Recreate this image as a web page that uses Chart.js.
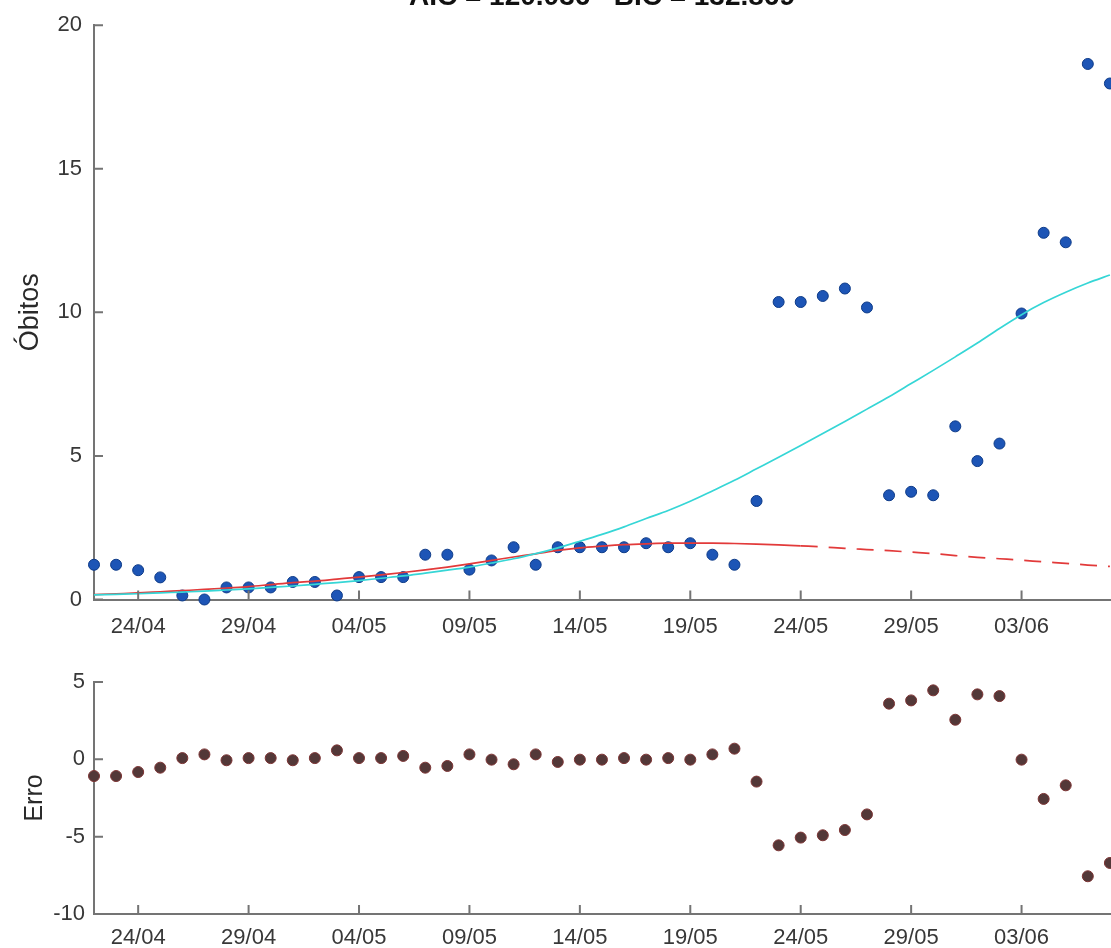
<!DOCTYPE html>
<html>
<head>
<meta charset="utf-8">
<script src="https://cdn.jsdelivr.net/npm/chart.js@4.4.1/dist/chart.umd.min.js"></script>
<style>
html,body{margin:0;padding:0;background:#fff;overflow:hidden;}
#wrap{position:relative;width:1111px;height:948px;overflow:hidden;background:#fff;}
#title{position:absolute;left:0;width:1204px;text-align:center;top:-18px;font:bold 28px "Liberation Sans",Arial,sans-serif;color:#111;white-space:pre;line-height:28px;z-index:5;}
#topBox{position:absolute;left:0;top:0;width:1111px;height:645px;}
#botBox{position:absolute;left:0;top:640px;width:1111px;height:308px;}
</style>
</head>
<body>
<div id="wrap">
  <div id="topBox"><canvas id="topChart"></canvas></div>
  <div id="botBox"><canvas id="botChart"></canvas></div>
  <div id="title">AIC = 120.036   BIC = 132.869</div>
</div>
<script>
// ---- data ----
const dates = ['22/04','23/04','24/04','25/04','26/04','27/04','28/04','29/04','30/04',
  '01/05','02/05','03/05','04/05','05/05','06/05','07/05','08/05','09/05','10/05','11/05','12/05',
  '13/05','14/05','15/05','16/05','17/05','18/05','19/05','20/05','21/05','22/05','23/05','24/05',
  '25/05','26/05','27/05','28/05','29/05','30/05','31/05',
  '01/06','02/06','03/06','04/06','05/06','06/06','07/06'];
const tickDates = ['24/04','29/04','04/05','09/05','14/05','19/05','24/05','29/05','03/06'];
const obitos = [1.21,1.21,1.02,0.77,0.14,0.0,0.42,0.42,0.42,0.61,0.61,0.14,0.78,0.78,0.78,1.56,1.56,1.04,1.36,1.82,1.21,
  1.82,1.82,1.82,1.82,1.96,1.82,1.96,1.56,1.21,3.43,10.36,10.36,10.57,10.83,10.17,3.63,3.75,3.63,6.03,4.82,5.43,
  9.96,12.77,12.44,18.65,17.97];
const ajusteCiano = [0.16,0.18,0.20,0.23,0.26,0.29,0.33,0.37,0.42,0.47,0.53,0.59,0.66,0.74,0.82,0.92,1.02,1.13,1.27,1.42,1.60,
  1.80,2.03,2.27,2.53,2.82,3.10,3.42,3.78,4.15,4.55,4.95,5.36,5.78,6.20,6.63,7.06,7.52,7.98,8.45,8.93,9.44,
  9.92,10.34,10.70,11.02,11.30];
const ajusteVermelho = [0.17,0.20,0.23,0.27,0.31,0.35,0.40,0.45,0.52,0.59,0.64,0.71,0.78,0.86,0.94,1.03,1.13,1.24,1.36,1.48,1.59,
  1.71,1.80,1.86,1.91,1.94,1.96,1.96,1.96,1.95,1.93,1.90,1.87,1.83,1.78,1.74,1.70,1.65,1.60,1.53,1.47,1.42,
  1.37,1.31,1.26,1.20,1.15];
const ultimoDiaAjustado = '24/05';
const erro = [-1.08,-1.08,-0.82,-0.54,0.08,0.32,-0.06,0.08,0.08,-0.06,0.08,0.58,0.08,0.08,0.22,-0.54,-0.43,0.32,-0.02,-0.32,
  0.32,-0.17,-0.02,-0.02,0.08,-0.02,0.08,-0.02,0.32,0.69,-1.44,-5.56,-5.06,-4.91,-4.57,-3.56,3.60,3.81,4.46,2.56,4.20,4.09,
  -0.02,-2.56,-1.68,-7.56,-6.70];
const obitosTicks = [0,5,10,15,20];
const erroTicks = [-10,-5,0,5];

// ---- helpers ----
const FONT = '"Liberation Sans", Arial, Helvetica, sans-serif';
const AXIS = '#747474';
const TXT = '#383838';
const tickIdx = tickDates.map(d => dates.indexOf(d));
const cut = dates.indexOf(ultimoDiaAjustado);
const pts = arr => arr.map((v, i) => ({x: i, y: v}));
const seg = (arr, a, b) => arr.map((v, i) => ({x: i, y: v})).slice(a, b + 1);

const inwardTicks = {
  id: 'inwardTicks',
  afterDraw(chart) {
    const {ctx, chartArea, scales} = chart;
    ctx.save();
    ctx.strokeStyle = AXIS;
    ctx.lineWidth = 2;
    ctx.beginPath();
    scales.x.ticks.forEach(t => {
      const px = scales.x.getPixelForValue(t.value);
      ctx.moveTo(px, chartArea.bottom);
      ctx.lineTo(px, chartArea.bottom - 9);
    });
    scales.y.ticks.forEach(t => {
      const py = scales.y.getPixelForValue(t.value);
      ctx.moveTo(chartArea.left, py);
      ctx.lineTo(chartArea.left + 9, py);
    });
    ctx.stroke();
    ctx.restore();
  }
};

function xScale(h, pad) {
  return {
    type: 'linear', min: 0, max: dates.length - 1 + 0.05,
    afterBuildTicks: s => { s.ticks = tickIdx.map(v => ({value: v})); },
    afterFit: s => { s.height = h; s.paddingLeft = 0; s.paddingRight = 0; },
    ticks: {
      font: {family: FONT, size: 22}, color: TXT, padding: pad, maxRotation: 0, autoSkip: false,
      callback: (v, i) => tickDates[i]
    },
    grid: {display: false, drawTicks: false},
    border: {display: true, color: AXIS, width: 2}
  };
}
function yScale(min, max, ticksArr, title, titleSize, titlePad, tickPad) {
  return {
    type: 'linear', min: min, max: max,
    afterBuildTicks: s => { s.ticks = ticksArr.map(v => ({value: v})); },
    afterFit: s => { s.width = 94; },
    ticks: {font: {family: FONT, size: 22}, color: TXT, padding: tickPad, callback: v => String(v)},
    grid: {display: false, drawTicks: false},
    border: {display: true, color: AXIS, width: 2},
    title: {display: true, text: title, color: '#2a2a2a', font: {family: FONT, size: titleSize, lineHeight: 1}, padding: {top: titlePad, bottom: 0}}
  };
}
const common = {
  responsive: true, maintainAspectRatio: false, animation: false, events: [],
  plugins: {legend: {display: false}, tooltip: {enabled: false}, title: {display: false}}
};

new Chart(document.getElementById('topChart'), {
  type: 'scatter',
  data: {
    datasets: [
      {label: 'Ajuste (ciano)', data: pts(ajusteCiano), showLine: true, borderColor: '#36d6d6', borderWidth: 1.7,
       cubicInterpolationMode: 'monotone', pointRadius: 0, order: 0},
      {label: 'Ajuste (vermelho)', data: seg(ajusteVermelho, 0, cut), showLine: true, borderColor: '#e23a3a', borderWidth: 1.7,
       cubicInterpolationMode: 'monotone', pointRadius: 0, order: 1},
      {label: 'Projeção', data: seg(ajusteVermelho, cut, dates.length - 1), showLine: true, borderColor: '#e23a3a', borderWidth: 1.7,
       cubicInterpolationMode: 'monotone', borderDash: [17, 11], pointRadius: 0, order: 1},
      {label: 'Óbitos', data: pts(obitos), showLine: false, pointRadius: 5.5, backgroundColor: '#1d55b6',
       borderColor: '#0e3b88', borderWidth: 1, order: 2, clip: false}
    ]
  },
  options: Object.assign({}, common, {
    layout: {autoPadding: false, padding: {top: 19, left: 0, right: 0, bottom: 0}},
    scales: {x: xScale(45.5, 14), y: yScale(0, 20, obitosTicks, 'Óbitos', 27, 17, 12)}
  }),
  plugins: [inwardTicks]
});

new Chart(document.getElementById('botChart'), {
  type: 'scatter',
  data: {
    datasets: [
      {label: 'Erro', data: pts(erro), showLine: false, pointRadius: 5.5, backgroundColor: '#533838',
       borderColor: '#7d3434', borderWidth: 1, clip: false}
    ]
  },
  options: Object.assign({}, common, {
    layout: {autoPadding: false, padding: {top: 42, left: 0, right: 0, bottom: 0}},
    scales: {x: xScale(34, 11), y: yScale(-10, 5, erroTicks, 'Erro', 25, 23, 9)}
  }),
  plugins: [inwardTicks]
});
</script>
</body>
</html>
